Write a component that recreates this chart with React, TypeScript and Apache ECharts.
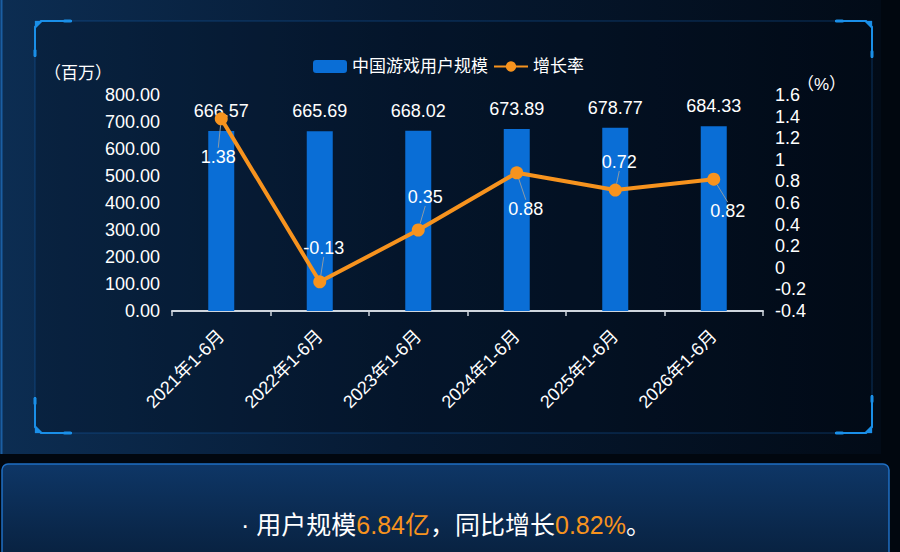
import React, { useEffect, useRef } from 'react';
import * as echarts from 'echarts';

const categories = ['2021年1-6月', '2022年1-6月', '2023年1-6月', '2024年1-6月', '2025年1-6月', '2026年1-6月'];
const userScale = [666.57, 665.69, 668.02, 673.89, 678.77, 684.33];
const growthRate = [1.38, -0.13, 0.35, 0.88, 0.72, 0.82];
const seriesNames = ['中国游戏用户规模', '增长率'];
const leftAxisName = '（百万）';
const rightAxisName = '（%）';

// label guide offsets (style only)
const rateLabelOffsets = [[-3, 38], [4, -34], [7, -33], [9, 36], [4, -28], [14, 32]];

const FONT = '"Liberation Sans", "Noto Sans CJK SC", sans-serif';
const ORANGE = '#f7931e';
const CORNER = '#1a8fe8';

function corner(points: number[][], thick: number[][]) {
  return [
    { type: 'polyline', silent: true, shape: { points }, style: { stroke: CORNER, lineWidth: 2, fill: null } },
    { type: 'polygon', silent: true, shape: { points: thick }, style: { fill: CORNER } },
  ];
}

export default function App() {
  const ref = useRef<HTMLDivElement>(null);
  useEffect(() => {
    if (!ref.current) return;
    const chart = echarts.init(ref.current, undefined, { renderer: 'svg' });
    const last = userScale.length - 1;
    const summary =
      '{w|· 用户规模}{o|' + (userScale[last] / 100).toFixed(2) + '亿}{w|，同比增长}{o|' +
      growthRate[last].toFixed(2) + '%}{w|。}';

    const graphic: any[] = [
      {
        type: 'rect', silent: true, z: -10,
        shape: { x: 0, y: -2, width: 881, height: 456 },
        style: {
          fill: new echarts.graphic.LinearGradient(0, 0, 1, 0, [
            { offset: 0, color: '#0c2d52' },
            { offset: 0.45, color: '#061a33' },
            { offset: 1, color: '#020b17' },
          ]),
        },
      },
      { type: 'line', silent: true, shape: { x1: 1.5, y1: 0, x2: 1.5, y2: 454 }, style: { stroke: '#1b5fa3', lineWidth: 2 } },
      {
        type: 'line', silent: true, shape: { x1: 1, y1: 453.5, x2: 881, y2: 453.5 },
        style: {
          stroke: new echarts.graphic.LinearGradient(0, 0, 1, 0, [
            { offset: 0, color: '#1b5fa3' },
            { offset: 1, color: 'rgba(27,95,163,0.1)' },
          ]),
          lineWidth: 2,
        },
      },
      {
        type: 'rect', silent: true,
        shape: { x: 35, y: 21, width: 837, height: 412 },
        style: { stroke: 'rgba(25,100,180,0.45)', lineWidth: 1, fill: 'rgba(0,8,20,0.25)' },
      },
      ...corner([[35, 57], [35, 27], [41, 21], [72, 21]], [[35, 21], [43, 21], [35, 29]]),
      { type: 'rect', silent: true, shape: { x: 63, y: 19.5, width: 9, height: 3, r: 1.5 }, style: { fill: CORNER } },
      { type: 'rect', silent: true, shape: { x: 33.5, y: 49, width: 3, height: 8, r: 1.5 }, style: { fill: CORNER } },
      ...corner([[835, 21], [866, 21], [872, 27], [872, 58]], [[872, 21], [864, 21], [872, 29]]),
      { type: 'rect', silent: true, shape: { x: 835, y: 19.5, width: 9, height: 3, r: 1.5 }, style: { fill: CORNER } },
      { type: 'rect', silent: true, shape: { x: 870.5, y: 50, width: 3, height: 8, r: 1.5 }, style: { fill: CORNER } },
      ...corner([[35, 397], [35, 427], [41, 433], [72, 433]], [[35, 433], [43, 433], [35, 425]]),
      { type: 'rect', silent: true, shape: { x: 63, y: 431.5, width: 9, height: 3, r: 1.5 }, style: { fill: CORNER } },
      { type: 'rect', silent: true, shape: { x: 33.5, y: 397, width: 3, height: 8, r: 1.5 }, style: { fill: CORNER } },
      ...corner([[872, 395], [872, 427], [866, 433], [835, 433]], [[872, 433], [864, 433], [872, 425]]),
      { type: 'rect', silent: true, shape: { x: 835, y: 431.5, width: 9, height: 3, r: 1.5 }, style: { fill: CORNER } },
      { type: 'rect', silent: true, shape: { x: 870.5, y: 395, width: 3, height: 8, r: 1.5 }, style: { fill: CORNER } },
      {
        type: 'rect', silent: true,
        shape: { x: 2, y: 464, width: 887, height: 100, r: [6, 6, 0, 0] },
        style: {
          fill: new echarts.graphic.LinearGradient(0, 0, 0, 1, [
            { offset: 0, color: '#0e3666' },
            { offset: 1, color: '#08203d' },
          ]),
          stroke: '#1f6fc4',
          lineWidth: 1.5,
        },
      },
      {
        type: 'text', silent: true, x: 446, y: 525,
        style: {
          text: summary,
          align: 'center',
          verticalAlign: 'middle',
          rich: {
            w: { fill: '#ffffff', fontSize: 25, fontFamily: FONT },
            o: { fill: ORANGE, fontSize: 25, fontFamily: FONT },
          },
        },
      },
    ];

    chart.setOption({
      animation: false,
      backgroundColor: '#01070f',
      textStyle: { fontFamily: FONT },
      graphic,
      legend: {
        data: seriesNames,
        left: 308,
        top: 53,
        itemWidth: 34,
        itemHeight: 13,
        itemGap: 5,
        textStyle: { color: '#ffffff', fontSize: 17, fontFamily: FONT },
      },
      grid: { left: 172, right: 137, top: 95, bottom: 241 },
      xAxis: {
        type: 'category',
        data: categories,
        axisLine: { lineStyle: { color: '#cfd6de', width: 2 } },
        axisTick: { show: true, length: 5, lineStyle: { color: '#cfd6de', width: 1.5 } },
        axisLabel: { rotate: 45, color: '#ffffff', fontSize: 18, margin: 22, interval: 0, fontFamily: FONT },
      },
      yAxis: [
        {
          type: 'value', min: 0, max: 800, interval: 100,
          name: leftAxisName, nameGap: 13, nameMoveOverlap: false,
          nameTextStyle: { color: '#ffffff', fontSize: 17, align: 'right', padding: [0, 60, 0, 0], fontFamily: FONT },
          axisLine: { show: false }, axisTick: { show: false }, splitLine: { show: false },
          axisLabel: { color: '#ffffff', fontSize: 18, margin: 12, fontFamily: FONT, formatter: (v: number) => v.toFixed(2) },
        },
        {
          type: 'value', min: -0.4, max: 1.6, interval: 0.2, position: 'right',
          name: rightAxisName, nameGap: 11, nameMoveOverlap: false,
          nameTextStyle: { color: '#ffffff', fontSize: 17, align: 'left', verticalAlign: 'middle', padding: [0, 0, 0, 34], fontFamily: FONT },
          axisLine: { show: false }, axisTick: { show: false }, splitLine: { show: false },
          axisLabel: { color: '#ffffff', fontSize: 18, margin: 12, fontFamily: FONT, formatter: (v: number) => String(+v.toFixed(1)) },
        },
      ],
      series: [
        {
          name: seriesNames[0], type: 'bar', data: userScale, barWidth: 26,
          itemStyle: { color: '#0a6ed6' },
          label: { show: true, position: 'top', distance: 11, color: '#ffffff', fontSize: 18, fontFamily: FONT },
        },
        {
          name: seriesNames[1], type: 'line', yAxisIndex: 1, data: growthRate,
          symbol: 'circle', symbolSize: 13,
          lineStyle: { color: ORANGE, width: 4 },
          itemStyle: { color: ORANGE },
          label: { show: true, position: 'inside', color: '#ffffff', fontSize: 18, fontFamily: FONT },
          labelLine: { show: true, lineStyle: { color: '#8c9aa6', width: 1 } },
          labelLayout: (p: any) => {
            const o = rateLabelOffsets[p.dataIndex] || [0, -20];
            return { dx: o[0], dy: o[1] };
          },
        },
      ],
    });
    return () => chart.dispose();
  }, []);
  return <div ref={ref} style={{ position: 'absolute', left: 0, top: 0, width: 900, height: 552 }} />;
}
